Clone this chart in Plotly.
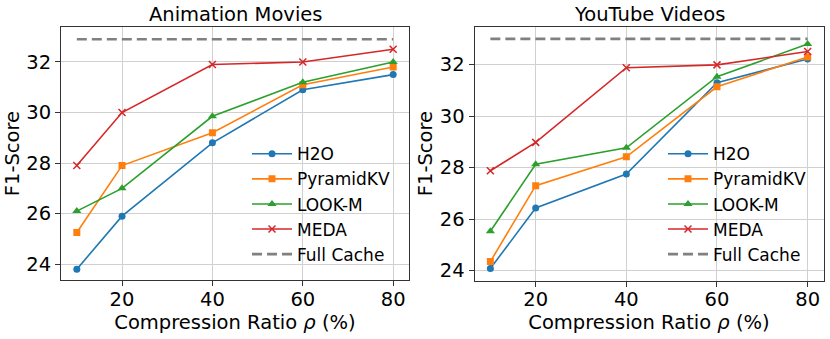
import plotly.graph_objects as go

ratios = [10, 20, 40, 60, 80]

anim_h2o = [23.8, 25.9, 28.8, 30.9, 31.5]
anim_pyramid = [25.25, 27.9, 29.2, 31.1, 31.8]
anim_lookm = [26.1, 27.0, 29.85, 31.2, 32.0]
anim_meda = [27.9, 30.0, 31.9, 32.0, 32.5]
anim_full = 32.9

yt_h2o = [24.08, 26.43, 27.75, 31.3, 32.22]
yt_pyramid = [24.35, 27.3, 28.42, 31.14, 32.3]
yt_lookm = [25.53, 28.13, 28.77, 31.53, 32.8]
yt_meda = [27.88, 28.98, 31.88, 31.99, 32.51]
yt_full = 33.0

titles = ["Animation Movies", "YouTube Videos"]
series_names = ["H2O", "PyramidKV", "LOOK-M", "MEDA", "Full Cache"]
colors = ["#1f77b4", "#ff7f0e", "#2ca02c", "#d62728", "#808080"]
symbols = ["circle", "square", "triangle-up", "x-thin"]

W, H = 830, 339
FONT = "DejaVu Sans"
FS = 19.5

fig = go.Figure()

panels = [
    (dict(h2o=anim_h2o, pk=anim_pyramid, lm=anim_lookm, meda=anim_meda, full=anim_full), "x", "y", "legend"),
    (dict(h2o=yt_h2o, pk=yt_pyramid, lm=yt_lookm, meda=yt_meda, full=yt_full), "x2", "y2", "legend2"),
]

for data, xa, ya, lg in panels:
    ys = [data["h2o"], data["pk"], data["lm"], data["meda"]]
    for i, yv in enumerate(ys):
        mk = dict(symbol=symbols[i], size=7 if i < 2 else 8, color=colors[i])
        if symbols[i] == "x-thin":
            mk = dict(symbol="x-thin", size=7, color=colors[i], line=dict(color=colors[i], width=1.5))
        fig.add_trace(go.Scatter(
            x=ratios, y=yv, mode="lines+markers", name=series_names[i],
            line=dict(color=colors[i], width=1.6), marker=mk,
            xaxis=xa, yaxis=ya, legend=lg,
        ))
    fig.add_trace(go.Scatter(
        x=[ratios[0], ratios[-1]], y=[data["full"], data["full"]], mode="lines",
        name=series_names[4], line=dict(color=colors[4], width=2.6, dash="10px,5px"),
        xaxis=xa, yaxis=ya, legend=lg,
    ))

def px2x(p):
    return p / W

def px2y(p):
    return 1 - p / H

axis_common = dict(
    showline=True, mirror=True, linecolor="#333333", linewidth=1,
    showgrid=True, gridcolor="#d0d0d0", gridwidth=1,
    ticks="outside", ticklen=5, tickwidth=1, tickcolor="#333333",
    tickfont=dict(family=FONT, size=FS, color="black"),
    zeroline=False,
)
xaxis_extra = dict(ticklabelstandoff=-4)

fig.update_layout(
    width=W, height=H,
    margin=dict(l=0, r=0, t=0, b=0),
    paper_bgcolor="white", plot_bgcolor="white",
    font=dict(family=FONT, color="black"),
    xaxis=dict(domain=[px2x(61), px2x(409)], range=[6.5, 83.5], tickvals=[20, 40, 60, 80],
               title=dict(text="Compression Ratio <i>ρ</i> (%)", font=dict(family=FONT, size=FS), standoff=4),
               anchor="y", **axis_common, **xaxis_extra),
    yaxis=dict(domain=[px2y(282), px2y(27)], range=[23.36, 33.39], tickvals=[24, 26, 28, 30, 32],
               title=dict(text="F1-Score", font=dict(family=FONT, size=FS), standoff=1),
               anchor="x", **axis_common),
    xaxis2=dict(domain=[px2x(474.5), px2x(823.5)], range=[6.5, 83.5], tickvals=[20, 40, 60, 80],
                title=dict(text="Compression Ratio <i>ρ</i> (%)", font=dict(family=FONT, size=FS), standoff=4),
                anchor="y2", **axis_common, **xaxis_extra),
    yaxis2=dict(domain=[px2y(282.3), px2y(26.7)], range=[23.61, 33.48], tickvals=[24, 26, 28, 30, 32],
                title=dict(text="F1-Score", font=dict(family=FONT, size=FS), standoff=1),
                anchor="x2", **axis_common),
    legend=dict(x=px2x(247), y=px2y(137), xanchor="left", yanchor="top",
                bgcolor="rgba(0,0,0,0)", font=dict(family=FONT, size=17), itemwidth=40),
    legend2=dict(x=px2x(663), y=px2y(137), xanchor="left", yanchor="top",
                 bgcolor="rgba(0,0,0,0)", font=dict(family=FONT, size=17), itemwidth=40),
    annotations=[
        dict(text=titles[0], x=(px2x(61) + px2x(409)) / 2, y=px2y(28), xref="paper", yref="paper",
             xanchor="center", yanchor="bottom", showarrow=False, font=dict(family=FONT, size=FS)),
        dict(text=titles[1], x=(px2x(474.5) + px2x(823.5)) / 2, y=px2y(28), xref="paper", yref="paper",
             xanchor="center", yanchor="bottom", showarrow=False, font=dict(family=FONT, size=FS)),
    ],
)

fig.write_html("out.html", config={"displayModeBar": False},
               post_script="document.body.style.margin='0px';")
